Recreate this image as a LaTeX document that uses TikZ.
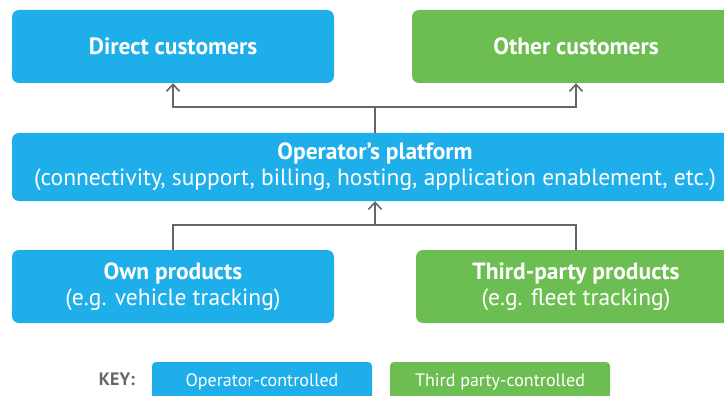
\documentclass[tikz,border=0pt]{standalone}
\usepackage{fontspec}
\setmainfont{PT Sans}
\usetikzlibrary{arrows.meta}
\definecolor{opblue}{HTML}{1EAFEA}
\definecolor{tpgreen}{HTML}{6DBE52}
\definecolor{linkgray}{HTML}{666668}
\begin{document}
\begin{tikzpicture}[x=1pt,y=-1pt]
		\tikzstyle{block} = [rectangle, rounded corners=7pt, text=white, align=center, inner sep=0pt, font=\fontsize{23.5}{26}\selectfont]
		\tikzstyle{keybox} = [rectangle, rounded corners=4pt, text=white, minimum width=220pt, minimum height=40pt, inner sep=0pt, font=\fontsize{18}{20}\selectfont]
		\tikzstyle{link} = [draw=linkgray, line width=1.6pt]
		\tikzstyle{arrow} = [link, -{Straight Barb[length=7pt,width=13pt,line width=1.6pt]}]
		\useasboundingbox (0,0) rectangle (724,396);
		\clip (0,0) rectangle (724,396);
		\node [block, fill=opblue, minimum width=322pt, minimum height=73pt] (direct) at (173,46.5) {\textbf{Direct customers}};
		\node [block, fill=tpgreen, minimum width=328pt, minimum height=73pt] (other) at (576,46.5) {\textbf{Other customers}};
		\node [block, fill=opblue, minimum width=726pt, minimum height=68pt] (platform) at (375,167) {\textbf{Operator’s platform}\\(connectivity, support, billing, hosting, application enablement, etc.)};
		\node [block, fill=opblue, minimum width=322pt, minimum height=73pt] (own) at (173,286.5) {\textbf{Own products}\\(e.g. vehicle tracking)};
		\node [block, fill=tpgreen, minimum width=320pt, minimum height=73pt] (third) at (576,286.5) {\textbf{Third-party products}\\(e.g. fleet tracking)};
		\node [font=\fontsize{18}{20}\selectfont\bfseries, text=linkgray] (key) at (117,379) {KEY:};
		\node [keybox, fill=opblue] (opkey) at (262,382) {Operator-controlled};
		\node [keybox, fill=tpgreen] (tpkey) at (500,382) {Third party-controlled};
		\coordinate (up) at (375,107);
		\coordinate (down) at (375,225);
		\draw [link] (platform.north) -- (up);
		\draw [arrow] (up) -| (direct.south);
		\draw [arrow] (up) -| (other.south);
		\draw [link] (own.north) |- (down);
		\draw [link] (third.north) |- (down);
		\draw [arrow] (down) -- (platform.south);
	\end{tikzpicture}
\end{document}
